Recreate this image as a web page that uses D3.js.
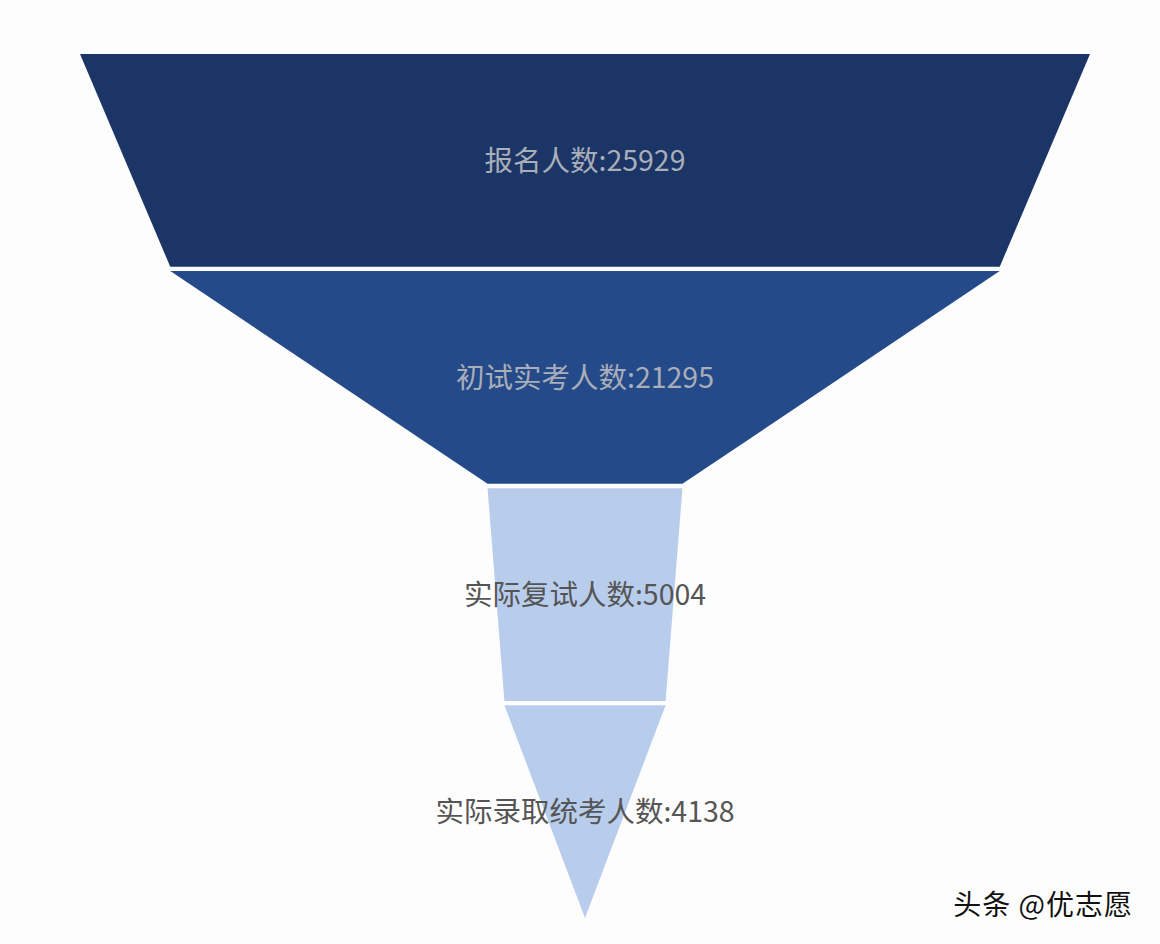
<!DOCTYPE html>
<html>
<head>
<meta charset="utf-8">
<script src="https://cdn.jsdelivr.net/npm/d3@7"></script>
<style>
  html, body { margin: 0; padding: 0; background: #fdfdfe; }
  svg { display: block; }
</style>
</head>
<body>
<svg id="chart" width="1160" height="944"></svg>
<script>
const categories = ["报名人数", "初试实考人数", "实际复试人数", "实际录取统考人数"];
const values = [25929, 21295, 5004, 4138];
const palette = ["#1b3566", "#244a8a", "#b8cdec", "#b8cdec"];
const labelColors = ["#a9aeb8", "#a9aeb8", "#555555", "#555555"];
const credit = "头条 @优志愿";

const W = 1160, H = 944;
const svg = d3.select("#chart");
svg.append("rect").attr("width", W).attr("height", H).attr("fill", "#fdfdfe");

const cx = 585;
const wScale = d3.scaleLinear().domain([0, d3.max(values)]).range([0, 1010]);
const yScale = d3.scaleBand().domain(categories).range([54, 918]).paddingInner(0.02).paddingOuter(0);

const g = svg.append("g");
categories.forEach((c, i) => {
  const y0 = yScale(c);
  const y1 = y0 + yScale.bandwidth();
  const wt = wScale(values[i]);
  const wb = i < values.length - 1 ? wScale(values[i + 1]) : 0;
  const pts = [[cx - wt / 2, y0], [cx + wt / 2, y0], [cx + wb / 2, y1], [cx - wb / 2, y1]];
  g.append("path")
    .attr("d", d3.line()(pts) + "Z")
    .attr("fill", palette[i]);
  g.append("text")
    .attr("x", cx)
    .attr("y", (y0 + y1) / 2 - 2)
    .attr("text-anchor", "middle")
    .attr("dominant-baseline", "central")
    .attr("font-family", "'Noto Sans CJK SC', 'Noto Sans', sans-serif")
    .attr("font-size", 28.5)
    .attr("fill", labelColors[i])
    .text(c + ":" + values[i]);
});

svg.append("text")
  .attr("x", 1133)
  .attr("y", 903)
  .attr("text-anchor", "end")
  .attr("dominant-baseline", "central")
  .attr("font-family", "'Noto Sans CJK SC', sans-serif")
  .attr("font-size", 28)
  .attr("letter-spacing", 1)
  .attr("fill", "#111")
  .attr("stroke", "#fff")
  .attr("stroke-width", 3)
  .attr("paint-order", "stroke")
  .text(credit);
</script>
</body>
</html>
